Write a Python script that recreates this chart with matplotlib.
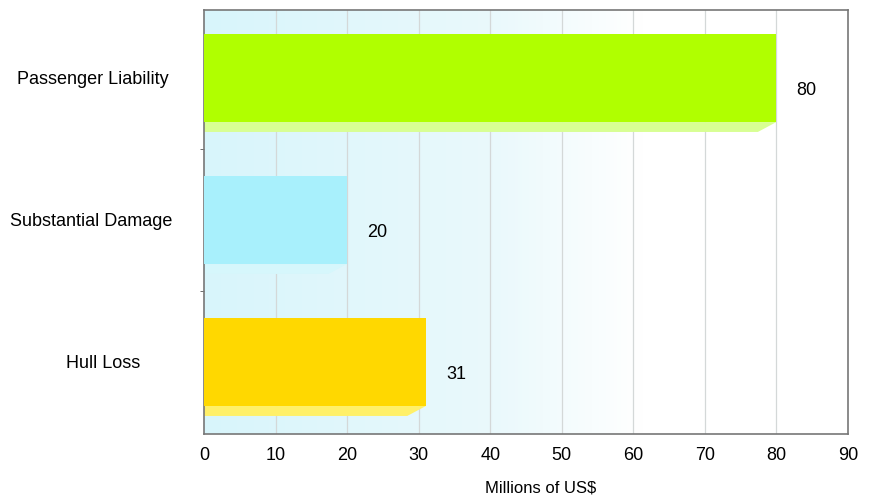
import numpy as np
import matplotlib.pyplot as plt
from matplotlib.colors import LinearSegmentedColormap

categories = ["Hull Loss", "Substantial Damage", "Passenger Liability"]
values = [31, 20, 80]
bar_colors = ["#ffd800", "#a8f0fc", "#b0ff00"]
shadow_colors = ["#fff068", "#d6f7fc", "#d8ff94"]
xticks = [0, 10, 20, 30, 40, 50, 60, 70, 80, 90]

# horizontal centre of each category label, in data units left of the axis
label_x = [-14.1, -15.8, -15.6]

plt.rcParams["font.family"] = ["Liberation Sans", "DejaVu Sans"]

fig = plt.figure(figsize=(8.69, 4.97), dpi=100)
ax = fig.add_axes([204 / 869, 63 / 497, 644 / 869, 424 / 497])

ylo, yhi = -0.507, 2.479
ax.set_xlim(0, 90)
ax.set_ylim(ylo, yhi)

# background gradient, light cyan fading to white
cmap = LinearSegmentedColormap.from_list(
    "bg", [(0, "#d8f5fb"), (0.45, "#eaf9fc"), (0.68, "#ffffff"), (1, "#ffffff")]
)
grad = np.linspace(0, 1, 256).reshape(1, -1)
ax.imshow(grad, cmap=cmap, aspect="auto", extent=[0, 90, ylo, yhi], zorder=0)

for x in xticks[1:-1]:
    ax.axvline(x, color="#d4d8d8", lw=0.9, zorder=1)

h = 0.62
sh = 0.07
for i, (v, c, s) in enumerate(zip(values, bar_colors, shadow_colors)):
    yb = i - h / 2
    ax.fill(
        [0, v, v - 2.6, 0],
        [yb, yb, yb - sh, yb - sh],
        color=s, lw=0, zorder=2,
    )
    ax.barh(i, v, height=h, color=c, zorder=3)
    ax.text(v + 2.8, i - 0.085, str(v), ha="left", va="center", fontsize=13)

ax.set_xticks(xticks)
ax.tick_params(axis="x", length=0, labelsize=13, pad=9)
ax.set_yticks(range(len(categories)))
ax.set_yticklabels([])
ax.tick_params(axis="y", which="major", length=0)
ax.set_yticks([0.5, 1.5], minor=True)
ax.tick_params(axis="y", which="minor", length=3, color="#555555")

for i, name in enumerate(categories):
    ax.text(label_x[i], i - 0.01, name, ha="center", va="center", fontsize=13,
            clip_on=False)

ax.set_xlabel("Millions of US$", fontsize=12)
ax.xaxis.set_label_coords(0.522, -0.11)

for sp in ax.spines.values():
    sp.set_color("#777777")
    sp.set_linewidth(1.2)

fig.savefig("out.png", dpi=100)
